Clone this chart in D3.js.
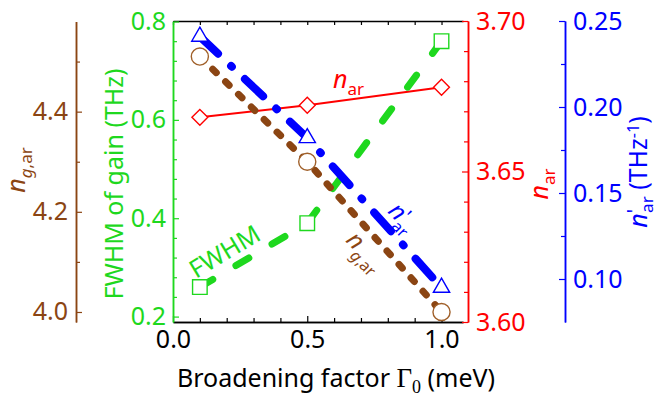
<!DOCTYPE html>
<html>
<head>
<meta charset="utf-8">
<script src="https://cdn.jsdelivr.net/npm/d3@7"></script>
<style>
body { margin: 0; background: #fff; }
svg text { font-family: "Noto Sans", sans-serif; }
</style>
</head>
<body>
<svg id="chart" width="655" height="399"></svg>
<script>
// data
var broadening = [0.1, 0.5, 1.0];          // Gamma0 (meV)
var fwhmGain = [0.26, 0.39, 0.76];         // THz
var nAr = [3.668, 3.672, 3.678];
var nGroupAr = [4.51, 4.30, 4.00];
var nPrimeAr = [0.241, 0.182, 0.095];      // THz^-1

var xMajor = [0, 0.5, 1.0];
var xMinor = [0.1, 0.2, 0.3, 0.4, 0.6, 0.7, 0.8, 0.9];
var fwhmMajor = [0.2, 0.4, 0.6, 0.8];
var fwhmMinor = [0.24, 0.28, 0.32, 0.36, 0.44, 0.48, 0.52, 0.56, 0.64, 0.68, 0.72, 0.76];
var nArMajor = [3.60, 3.65, 3.70];
var nArMinor = [3.61, 3.62, 3.63, 3.64, 3.66, 3.67, 3.68, 3.69];
var nGroupMajor = [4.0, 4.2, 4.4];
var nGroupMinor = [4.1, 4.3, 4.5];
var nPrimeMajor = [0.10, 0.15, 0.20, 0.25];
var nPrimeMinor = [0.125, 0.175, 0.225];

var green = "#1ed81e", red = "#ff0000", blue = "#0000ff", brown = "#8b4513", brownMk = "#a0602a";
var fs = "25px";

var pLeft = 173, pRight = 463, pTop = 21, pBottom = 322;

var svg = d3.select("#chart");

var x = d3.scaleLinear().domain([0, 1.08]).range([pLeft, pRight]);
var yFwhm = d3.scaleLinear().domain([0.189, 0.8]).range([pBottom, pTop + 0.5]);
var yNar = d3.scaleLinear().domain([3.60, 3.70]).range([pBottom, pTop]);
var yNg = d3.scaleLinear().domain([3.98, 4.58]).range([pBottom, pTop + 0.5]);
var yNp = d3.scaleLinear().domain([0.075, 0.25]).range([pBottom, pTop]);

function styleAxis(g, color) {
    g.selectAll("path").attr("stroke", color).attr("stroke-width", 1.5);
    g.selectAll("line").attr("stroke", color).attr("stroke-width", 1.2);
    g.selectAll("text").attr("fill", color).style("font-size", fs)
        .style("font-family", "'Noto Sans', sans-serif");
}

function drawAxis(axisFn, scale, major, minor, fmt, color, tx, ty, pad) {
    var gMinor = svg.append("g").attr("transform", "translate(" + tx + "," + ty + ")")
        .call(axisFn(scale).tickValues(minor).tickFormat("").tickSizeInner(-4).tickSizeOuter(0));
    styleAxis(gMinor, color);
    var gMajor = svg.append("g").attr("transform", "translate(" + tx + "," + ty + ")")
        .call(axisFn(scale).tickValues(major).tickFormat(d3.format(fmt))
            .tickSizeInner(-6).tickSizeOuter(0).tickPadding(pad));
    styleAxis(gMajor, color);
    return gMajor;
}

// frame: bottom and top black axes
drawAxis(d3.axisBottom, x, xMajor, xMinor, ".1f", "#000", 0, pBottom, 8);
var topAx = svg.append("g").attr("transform", "translate(0," + pTop + ")")
    .call(d3.axisTop(x).tickValues(xMajor.concat(xMinor)).tickFormat("").tickSizeInner(-4).tickSizeOuter(0));
styleAxis(topAx, "#000");

drawAxis(d3.axisLeft, yFwhm, fwhmMajor, fwhmMinor, ".1f", green, pLeft, 0, 7);
drawAxis(d3.axisRight, yNar, nArMajor, nArMinor, ".2f", red, pRight + 5, 0, 8);
drawAxis(d3.axisLeft, yNg, nGroupMajor, nGroupMinor, ".1f", brown, 76, 0, 8);
drawAxis(d3.axisRight, yNp, nPrimeMajor, nPrimeMinor, ".2f", blue, 565, 0, 8);

// series
var idx = d3.range(broadening.length);

function drawLine(yScale, vals, color, width, dash) {
    svg.append("path")
        .datum(idx)
        .attr("fill", "none")
        .attr("stroke", color)
        .attr("stroke-width", width)
        .attr("stroke-linecap", "round")
        .attr("stroke-dasharray", dash)
        .attr("d", d3.line()
            .x(function(i) { return x(broadening[i]); })
            .y(function(i) { return yScale(vals[i]); }));
}

drawLine(yNar, nAr, red, 2, null);
drawLine(yFwhm, fwhmGain, green, 7, "15,27");
drawLine(yNg, nGroupAr, brown, 7, "5,13");
drawLine(yNp, nPrimeAr, blue, 8, "25,18,1,18");

function drawMarkers(yScale, vals, color, type, size) {
    svg.append("g").selectAll("path")
        .data(idx)
        .enter()
        .append("path")
        .attr("transform", function(i) { return "translate(" + x(broadening[i]) + "," + yScale(vals[i]) + ")"; })
        .attr("d", d3.symbol().type(type).size(size))
        .attr("fill", "#fff")
        .attr("stroke", color)
        .attr("stroke-width", 1.4);
}

drawMarkers(yNar, nAr, red, d3.symbolDiamond2, 160);
drawMarkers(yFwhm, fwhmGain, green, d3.symbolSquare2, 270);
drawMarkers(yNg, nGroupAr, brownMk, d3.symbolCircle, 230);
drawMarkers(yNp, nPrimeAr, blue, d3.symbolTriangle2, 190);

// in-plot labels
var t = svg.append("text").attr("x", 333).attr("y", 88).attr("fill", red);
t.append("tspan").style("font-style", "italic").style("font-size", "25px").text("n");
t.append("tspan").attr("dy", 7).style("font-size", "17px").text("ar");

svg.append("text")
    .attr("transform", "translate(196,279) rotate(-31)")
    .attr("fill", green).style("font-size", "25px").text("FWHM");

t = svg.append("text").attr("transform", "translate(387,212) rotate(46)").attr("fill", blue);
t.append("tspan").style("font-style", "italic").style("font-size", "24px").text("n");
t.append("tspan").attr("dy", -4).style("font-size", "20px").text("'");
t.append("tspan").attr("dx", -5).attr("dy", 12).style("font-size", "16px").text("ar");

t = svg.append("text").attr("transform", "translate(345,241) rotate(46)").attr("fill", brown);
t.append("tspan").style("font-style", "italic").style("font-size", "24px").text("n");
t.append("tspan").attr("dy", 8).style("font-size", "16px").style("font-style", "italic").text("g");
t.append("tspan").style("font-size", "16px").text(",ar");

// axis titles
t = svg.append("text").attr("transform", "translate(25,170) rotate(-90)")
    .attr("text-anchor", "middle").attr("fill", brown);
t.append("tspan").style("font-style", "italic").style("font-size", "25px").text("n");
t.append("tspan").attr("dy", 7).style("font-size", "17px").style("font-style", "italic").text("g");
t.append("tspan").style("font-size", "17px").text(",ar");

svg.append("text").attr("transform", "translate(123,184) rotate(-90)")
    .attr("text-anchor", "middle").attr("fill", green).style("font-size", fs)
    .text("FWHM of gain (THz)");

t = svg.append("text").attr("transform", "translate(548,184) rotate(-90)")
    .attr("text-anchor", "middle").attr("fill", red);
t.append("tspan").style("font-style", "italic").style("font-size", "25px").text("n");
t.append("tspan").attr("dy", 7).style("font-size", "17px").text("ar");

t = svg.append("text").attr("transform", "translate(647,172) rotate(-90)")
    .attr("text-anchor", "middle").attr("fill", blue);
t.append("tspan").style("font-style", "italic").style("font-size", "25px").text("n");
t.append("tspan").attr("dy", -6).style("font-size", "19px").text("'");
t.append("tspan").attr("dx", -4).attr("dy", 12).style("font-size", "17px").text("ar");
t.append("tspan").attr("dy", -6).style("font-size", fs).text("\u00a0(THz");
t.append("tspan").attr("dy", -8).style("font-size", "16px").text("-1");
t.append("tspan").attr("dy", 8).style("font-size", fs).text(")");

t = svg.append("text").attr("x", 336).attr("y", 387)
    .attr("text-anchor", "middle").attr("fill", "#000").style("font-size", fs);
t.append("tspan").text("Broadening factor ");
t.append("tspan").style("font-family", "'Liberation Serif', serif").style("font-size", "27px").text("\u0393");
t.append("tspan").attr("dy", 6).style("font-family", "'Liberation Serif', serif").style("font-size", "18px").text("0");
t.append("tspan").attr("dy", -6).text(" (meV)");
</script>
</body>
</html>
